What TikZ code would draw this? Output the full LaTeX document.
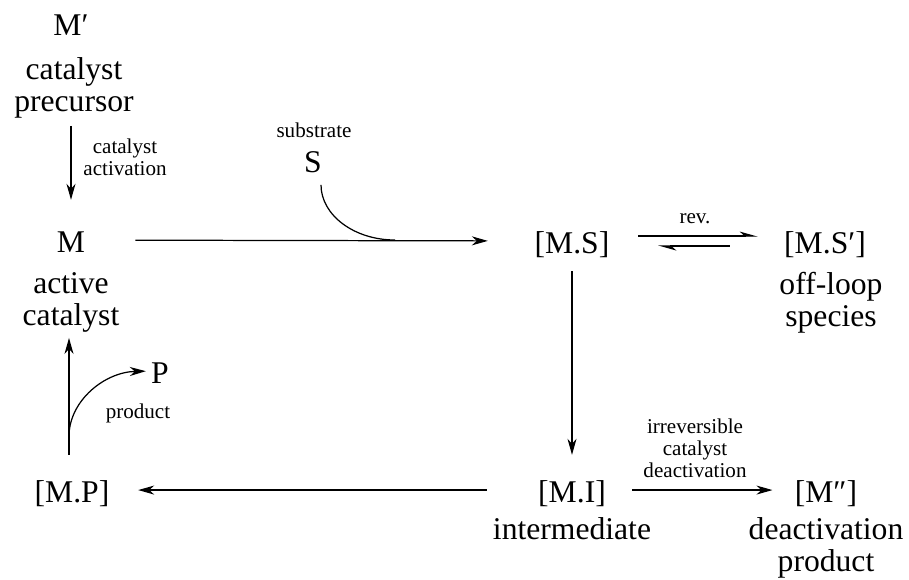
\documentclass[tikz,border=0pt]{standalone}
\usepackage{fontspec}
\setmainfont{Liberation Serif}
\usetikzlibrary{arrows.meta,positioning}

\begin{document}
\begin{tikzpicture}[x=0.02cm, y=-0.02cm,
    species/.style={font=\fontsize{18}{18.2}\selectfont, inner sep=0pt,
                    text height=15pt, text depth=1.4pt, anchor=base},
    desc/.style={font=\fontsize{18}{18.2}\selectfont, inner sep=0pt,
                 align=center, anchor=north},
    note/.style={font=\fontsize{12}{12.5}\selectfont, inner sep=0pt,
                 align=center},
    arr/.style={-{Stealth[length=3.2mm, width=1.8mm, inset=1mm]}, line width=0.7pt},
    harp/.style={-{Stealth[length=3.2mm, width=1.8mm, inset=1mm, left]}, line width=0.7pt},
  ]
  \useasboundingbox (0,0) rectangle (909,579);

  % species on the cycle
  \node[species] (Mpre) at (71,35) {M′};
  \node[desc] (precur) at (74,57) {catalyst\\precursor};
  \node[species] (M) at (71,252) {M};
  \node[desc] (active) at (71,272) {active\\catalyst};
  \node[species] (MS) at (572,253) {[M.S]};
  \node[species] (MSp) at (825,253) {[M.S′]};
  \node[desc] (offloop) at (831,272) {off-loop\\species};
  \node[species] (MI) at (572,502) {[M.I]};
  \node[desc] (intm) at (572,517) {intermediate};
  \node[species] (Mpp) at (826,502) {[M″]};
  \node[desc] (deact) at (826,517) {deactivation\\product};
  \node[species] (MP) at (72,502) {[M.P]};
  \node[species] (S) at (313,172) {S};
  \node[species] (P) at (160,383) {P};

  % small labels
  \node[note, anchor=north] (activ) at (125,139) {catalyst\\activation};
  \node[note, anchor=base] (substr) at (314,137) {substrate};
  \node[note, anchor=base] (prod) at (138,418) {product};
  \node[note, anchor=base] (rev) at (695,223) {rev.};
  \node[note, anchor=north] (irrev) at (695,419) {irreversible\\catalyst\\deactivation};

  \coordinate (join) at (395,240);
  \coordinate (fork) at (69,435);

  % arrows
  \draw[arr, shorten <=1.5mm, shorten >=5.1mm] (M |- precur.south) -- (M);
  \draw[arr, shorten <=10mm, shorten >=9.3mm] (M) -- (MS);
  \draw[line width=0.7pt] ([shift={(8,10)}]S.south)
    .. controls (321,215) and (354,240) .. (join);
  \draw[harp, shorten <=5.7mm, shorten >=5.2mm] ([yshift=1mm]MS.east) -- ([yshift=1mm]MSp.west);
  \draw[harp, shorten <=10.8mm, shorten >=9.7mm] ([yshift=-1mm]MSp.west) -- ([yshift=-1mm]MS.east);
  \draw[arr, shorten <=3.1mm, shorten >=4.1mm] (MS) -- (MI);
  \draw[arr, shorten <=5.2mm, shorten >=4.4mm] (MI) -- (Mpp);
  \draw[arr, shorten <=10.2mm, shorten >=5.7mm] (MI) -- (MP);
  \draw[arr, shorten <=4.1mm, shorten >=1.1mm] (MP.north -| fork) -- (fork |- active.south);
  \draw[arr, shorten >=1mm] (fork) .. controls (70,400) and (105,372) .. (P.west);
\end{tikzpicture}
\end{document}
